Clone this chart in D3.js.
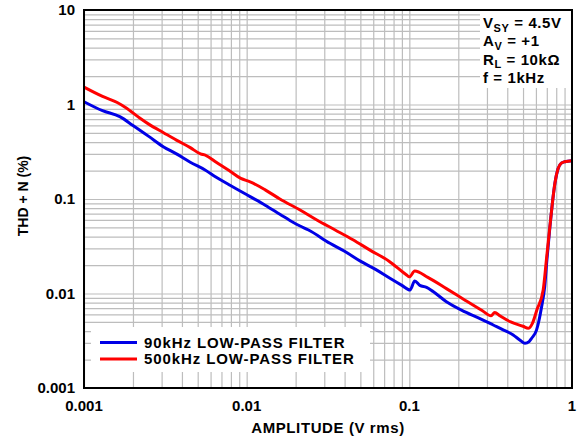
<!DOCTYPE html>
<html>
<head>
<meta charset="utf-8">
<script src="https://cdn.jsdelivr.net/npm/d3@7"></script>
<style>
  body { margin: 0; background: #fff; }
  text { font-family: "Liberation Sans", Arial, sans-serif; font-weight: bold; fill: #000; }
</style>
</head>
<body>
<div id="chartDiv"></div>
<script>
// amplitude (V rms) vs THD+N (%)
var amp90 = [0.001, 0.0013, 0.00166, 0.002, 0.0025, 0.00307, 0.0037, 0.0045, 0.00555, 0.0065, 0.008, 0.0105, 0.013, 0.016, 0.0195, 0.0213, 0.024, 0.0325, 0.04, 0.05, 0.062, 0.076, 0.09, 0.101, 0.108, 0.116, 0.1276, 0.14, 0.169, 0.22, 0.28, 0.328, 0.38, 0.435, 0.48, 0.514, 0.545, 0.565, 0.605, 0.65, 0.68, 0.70, 0.731, 0.785, 0.822, 0.86, 0.903, 1.0];
var thd90 = [1.07, 0.86, 0.743, 0.60, 0.46, 0.358, 0.30, 0.245, 0.203, 0.17, 0.138, 0.106, 0.086, 0.069, 0.056, 0.0518, 0.047, 0.034, 0.028, 0.022, 0.018, 0.0145, 0.0122, 0.0109, 0.01356, 0.0122, 0.01164, 0.0105, 0.00818, 0.0064, 0.0053, 0.00464, 0.0041, 0.00364, 0.0032, 0.00297, 0.0031, 0.00336, 0.0041, 0.0072, 0.012, 0.022, 0.05, 0.146, 0.21, 0.24, 0.248, 0.254];

var amp500 = [0.001, 0.0013, 0.0016, 0.0018, 0.0022, 0.0025, 0.0031, 0.0037, 0.0045, 0.0052, 0.0056, 0.0065, 0.0078, 0.0092, 0.0105, 0.013, 0.016, 0.0213, 0.027, 0.035, 0.045, 0.0573, 0.075, 0.0962, 0.100, 0.108, 0.13, 0.17, 0.22, 0.28, 0.318, 0.335, 0.36, 0.42, 0.5, 0.538, 0.57, 0.61, 0.665, 0.70, 0.731, 0.76, 0.785, 0.822, 0.86, 0.903, 1.0];
var thd500 = [1.53, 1.22, 1.05, 0.93, 0.72, 0.62, 0.50, 0.42, 0.35, 0.30, 0.29, 0.245, 0.20, 0.165, 0.152, 0.125, 0.10, 0.0765, 0.060, 0.047, 0.037, 0.0288, 0.022, 0.0157, 0.0150, 0.0173, 0.0148, 0.0112, 0.0085, 0.0066, 0.0058, 0.0063, 0.0058, 0.0050, 0.0045, 0.00428, 0.0048, 0.0068, 0.0109, 0.025, 0.051, 0.095, 0.147, 0.211, 0.24, 0.248, 0.254];

var xTicks = [0.001, 0.01, 0.1, 1];
var xTickLabels = ["0.001", "0.01", "0.1", "1"];
var yTicks = [0.001, 0.01, 0.1, 1, 10];
var yTickLabels = ["0.001", "0.01", "0.1", "1", "10"];

var seriesNames = ["90kHz LOW-PASS FILTER", "500kHz LOW-PASS FILTER"];
var seriesColors = ["#0000e6", "#ff0000"];
var conditions = [["V", "SY", " = 4.5V"], ["A", "V", " = +1"], ["R", "L", " = 10k\u03a9"], ["f = 1kHz", "", ""]];

var width = 583, height = 444;
var plotLeft = 84, plotRight = 572, plotTop = 10, plotBottom = 388;

var svg = d3.select("#chartDiv").append("svg")
    .attr("width", width)
    .attr("height", height);

var x = d3.scaleLog().domain([0.001, 1]).range([plotLeft, plotRight]);
var y = d3.scaleLog().domain([0.001, 10]).range([plotBottom, plotTop]);

// grid lines 1..9 per decade
var gridX = [];
var gridY = [];
for (var d = -3; d < 0; d++) {
    for (var k = 1; k < 10; k++) gridX.push(k * Math.pow(10, d));
}
for (var d = -3; d < 1; d++) {
    for (var k = 1; k < 10; k++) gridY.push(k * Math.pow(10, d));
}

svg.append("g")
    .attr("class", "gridX")
    .call(d3.axisBottom(x).tickValues(gridX).tickSize(-(plotBottom - plotTop)).tickFormat(""))
    .attr("transform", "translate(0," + plotBottom + ")")
    .call(function(g) { g.select(".domain").remove(); })
    .selectAll("line").attr("stroke", "#bdbdbd").attr("stroke-width", 1.2);

svg.append("g")
    .attr("class", "gridY")
    .call(d3.axisLeft(y).tickValues(gridY).tickSize(-(plotRight - plotLeft)).tickFormat(""))
    .attr("transform", "translate(" + plotLeft + ",0)")
    .call(function(g) { g.select(".domain").remove(); })
    .selectAll("line").attr("stroke", "#bdbdbd").attr("stroke-width", 1.2);

// white boxes behind the legends
svg.append("rect").attr("x", 91).attr("y", 327).attr("width", 279).attr("height", 45).attr("fill", "#fff");
svg.append("rect").attr("x", 480).attr("y", 11).attr("width", 91).attr("height", 77).attr("fill", "#fff");

var line = d3.line()
    .x(function(d) { return x(d[0]); })
    .y(function(d) { return y(d[1]); })
    .curve(d3.curveMonotoneX);

var data90 = amp90.map(function(a, i) { return [a, thd90[i]]; });
var data500 = amp500.map(function(a, i) { return [a, thd500[i]]; });

svg.append("path").datum(data90)
    .attr("d", line)
    .attr("fill", "none")
    .attr("stroke", seriesColors[0])
    .attr("stroke-width", 3)
    .attr("stroke-linejoin", "round");

svg.append("path").datum(data500)
    .attr("d", line)
    .attr("fill", "none")
    .attr("stroke", seriesColors[1])
    .attr("stroke-width", 3)
    .attr("stroke-linejoin", "round");

// frame
svg.append("rect")
    .attr("x", plotLeft).attr("y", plotTop)
    .attr("width", plotRight - plotLeft).attr("height", plotBottom - plotTop)
    .attr("fill", "none").attr("stroke", "#000").attr("stroke-width", 2);

// tick labels
svg.selectAll(".xLabel").data(xTicks).enter().append("text")
    .attr("class", "xLabel")
    .attr("x", function(d) { return x(d); })
    .attr("y", 411)
    .attr("text-anchor", "middle")
    .style("font-size", "15px")
    .text(function(d, i) { return xTickLabels[i]; });

svg.selectAll(".yLabel").data(yTicks).enter().append("text")
    .attr("class", "yLabel")
    .attr("x", 75)
    .attr("y", function(d) { return y(d) + 5; })
    .attr("text-anchor", "end")
    .style("font-size", "15px")
    .text(function(d, i) { return yTickLabels[i]; });

// axis titles
svg.append("text")
    .attr("x", 328).attr("y", 433)
    .attr("text-anchor", "middle")
    .style("font-size", "15px")
    .style("letter-spacing", "0.6px")
    .text("AMPLITUDE (V rms)");

svg.append("text")
    .attr("transform", "translate(28,196) rotate(-90)")
    .attr("text-anchor", "middle")
    .style("font-size", "14px")
    .text("THD + N (%)");

// legend
for (var i = 0; i < 2; i++) {
    var ly = 342.5 + i * 16.5;
    svg.append("line")
        .attr("x1", 100).attr("x2", 137)
        .attr("y1", ly).attr("y2", ly)
        .attr("stroke", seriesColors[i]).attr("stroke-width", 3);
    svg.append("text")
        .attr("x", 144).attr("y", ly + 5)
        .style("font-size", "15px")
        .style("letter-spacing", "0.9px")
        .text(seriesNames[i]);
}

// test conditions
conditions.forEach(function(c, i) {
    var t = svg.append("text")
        .attr("x", 483).attr("y", 28 + i * 18.4)
        .style("font-size", "15px")
        .style("letter-spacing", "0.6px");
    t.append("tspan").text(c[0]);
    if (c[1] != "") {
        t.append("tspan").attr("dy", 3.5).style("font-size", "11px").text(c[1]);
        t.append("tspan").attr("dy", -3.5).text(c[2]);
    }
});
</script>
</body>
</html>
